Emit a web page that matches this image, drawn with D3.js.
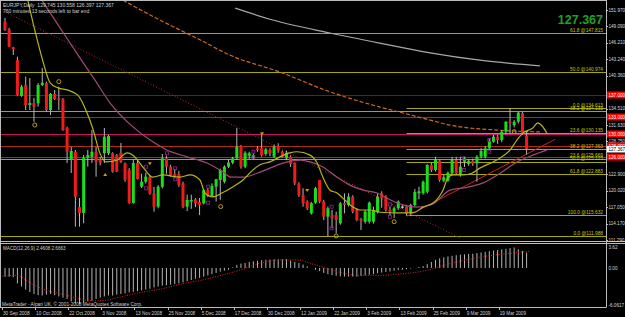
<!DOCTYPE html>
<html>
<head>
<meta charset="utf-8">
<script src="https://cdn.jsdelivr.net/npm/d3@7"></script>
<style>
  html, body { margin: 0; padding: 0; background: #000; }
  svg { display: block; }
  text { font-family: "Liberation Sans", Arial, sans-serif; }
</style>
</head>
<body>
<div id="chart"></div>
<script>
// ---- data ----
const titleText = "EURJPY,Daily  129.745 130.558 126.397 127.367";
const timerText = "760 minutes 13 seconds left to bar end";
const lastPrice = 127.367;

// daily bars [open, high, low, close]
const ohlc = [
  [149.90,150.56,148.26,148.43],[148.56,148.79,145.43,145.48],[145.37,145.48,144.01,145.02],[143.13,143.71,136.80,136.94],
  [136.76,138.71,136.64,138.40],[138.71,140.17,134.28,135.17],[135.17,139.94,134.28,135.52],[135.52,136.41,132.21,134.87],
  [135.47,139.06,134.87,138.71],[138.71,141.71,138.50,139.11],[139.06,139.30,134.00,134.28],[134.28,137.29,133.40,137.11],
  [137.11,137.82,136.05,136.23],[136.35,138.40,134.28,136.05],[136.18,136.41,130.60,130.75],[131.10,131.33,124.91,126.91],
  [125.44,127.79,123.14,127.03],[126.91,127.21,113.64,118.95],[117.13,118.72,113.64,116.07],[116.07,126.32,114.25,125.79],
  [125.85,127.21,124.26,126.32],[126.02,130.75,124.91,126.91],[126.91,127.79,122.49,125.14],[125.56,126.00,124.50,124.96],
  [126.63,131.10,124.91,129.56],[126.63,129.90,126.30,129.69],[126.63,126.80,123.20,123.37],[126.32,126.50,123.30,123.37],
  [126.73,128.45,124.90,125.14],[124.85,125.00,121.60,121.90],[123.67,124.00,117.70,117.84],[117.84,125.50,117.70,124.91],
  [124.91,125.50,122.00,122.08],[120.72,123.00,120.50,121.60],[121.60,123.20,121.30,122.49],[122.49,122.80,119.30,119.55],
  [119.55,120.70,116.30,117.18],[117.18,121.00,116.90,120.72],[120.70,126.50,120.40,125.74],[125.74,126.20,123.00,124.26],
  [124.26,124.60,122.50,122.79],[122.96,123.80,122.20,122.61],[122.96,123.50,120.70,121.02],[121.32,121.60,116.90,117.18],
  [117.18,119.30,116.40,118.37],[118.10,119.30,116.80,118.37],[118.49,118.70,117.10,117.78],[118.00,118.70,115.70,117.50],
  [117.78,120.30,117.60,120.13],[120.13,120.50,118.90,119.07],[119.07,121.30,118.90,120.84],[120.72,122.10,118.07,122.03],
  [121.90,123.90,118.40,123.67],[121.60,124.50,121.30,124.26],[124.26,125.50,124.00,124.96],[124.96,126.00,124.70,125.74],
  [125.74,131.10,125.50,127.79],[127.92,128.10,123.90,124.26],[124.26,127.00,124.00,126.73],[126.20,126.90,125.60,126.63],
  [125.74,126.60,125.50,126.32],[127.50,127.90,126.90,127.20],[127.51,130.16,126.02,126.32],[126.50,127.60,126.20,127.33],
  [127.21,127.50,126.10,126.63],[126.02,128.20,125.80,127.79],[127.92,128.40,126.70,127.08],[126.91,127.10,125.90,126.02],
  [125.74,127.10,125.40,126.73],[126.02,126.30,124.20,124.73],[124.96,125.00,121.00,121.32],[121.20,121.50,118.90,119.25],
  [119.25,120.44,117.18,117.78],[118.07,118.30,116.60,116.90],[116.01,118.00,115.80,117.78],[117.89,120.70,117.70,120.44],
  [121.90,121.90,117.80,118.07],[118.07,118.40,114.80,115.41],[115.41,117.20,111.99,116.90],[115.71,116.60,113.36,115.13],
  [115.71,116.30,112.47,114.83],[114.25,118.00,114.00,117.78],[117.78,119.55,116.01,117.50],[117.48,119.55,117.20,118.95],
  [118.95,119.20,116.00,116.30],[116.60,116.90,114.60,114.83],[115.00,115.20,113.05,114.70],[114.53,116.60,114.20,116.30],
  [114.53,118.10,114.20,117.89],[114.53,117.20,114.20,116.60],[116.30,119.50,116.00,118.95],[119.55,119.90,117.00,118.67],
  [118.95,119.20,116.30,116.60],[116.60,117.20,115.60,116.30],[116.30,117.20,115.20,116.90],[116.90,118.30,116.60,118.07],
  [117.15,117.50,116.80,117.20],[117.18,117.50,115.63,116.01],[116.01,117.70,115.80,117.48],[117.48,120.30,117.20,119.80],
  [119.55,120.70,118.50,119.90],[119.60,121.80,119.30,121.60],[119.83,124.70,119.50,124.56],[124.56,124.90,123.30,123.67],
  [123.67,126.02,123.40,125.44],[125.32,125.50,121.60,121.90],[121.78,122.80,121.50,122.38],[121.78,123.40,121.60,123.20],
  [123.09,126.00,122.80,125.44],[125.44,126.00,122.80,123.09],[122.79,126.02,122.50,124.26],[125.14,126.00,124.20,125.74],
  [124.73,125.60,124.40,125.32],[125.32,125.70,124.40,124.85],[124.85,126.30,121.60,126.02],[126.02,127.51,125.70,127.03],
  [126.02,127.90,125.70,127.51],[127.51,129.27,127.30,128.80],[128.68,129.90,128.50,129.56],[129.56,129.90,128.30,128.98],
  [128.98,130.75,128.60,130.45],[130.45,132.30,130.00,132.21],[132.21,134.61,130.16,132.00],[131.60,132.50,131.20,132.20],
  [132.21,134.00,131.90,133.83],[133.72,134.00,129.90,130.16],[129.745,130.558,126.397,127.367]
];

const priceTicks = [151.970, 149.090, 146.210, 143.240, 140.360, 134.510, 131.630, 128.750, 122.900, 120.020, 117.050, 114.170, 111.290];
const dateLabels = ["30 Sep 2008","10 Oct 2008","22 Oct 2008","3 Nov 2008","13 Nov 2008","25 Nov 2008","5 Dec 2008",
  "17 Dec 2008","30 Dec 2008","12 Jan 2009","22 Jan 2009","3 Feb 2009","13 Feb 2009","25 Feb 2009","9 Mar 2009","19 Mar 2009"];
const dateBars = [0, 8, 16, 24, 32, 40, 48, 56, 64, 72, 80, 88, 96, 104, 112, 120];

// horizontal price lines with red axis tags
const hLines = [137.000, 133.000, 130.000, 128.000, 126.000];

// fibonacci retracements
const fibALevels = ["0.0", "23.6", "38.2", "50.0", "61.8"];
const fibAPrices = [111.988, 125.669, 134.133, 140.974, 147.815];
const fibBLevels = ["0.0", "23.6", "38.2", "50.0", "61.8", "100.0"];
const fibBPrices = [134.613, 130.135, 127.363, 125.123, 122.883, 115.632];
const fibBStartBar = 97;

// moving averages [bar, price]
const maFast = [[5.5,153.7],[7.2,148.4],[9.2,142.8],[10.9,139.1],[12.8,138.2],[15.2,137.8],[17.6,136.9],[19.8,133.8],
  [21.3,130.8],[22.9,126.7],[24.4,125.1],[27,125.4],[29.5,126.7],[30.9,126.3],[33.3,124.2],[35.7,122.4],[38.2,122.8],
  [42.3,122.4],[44.7,122.8],[47.1,121.9],[48.3,119.6],[50.2,118.9],[52.4,119.6],[55.1,120.7],[57.5,121.9],[59.9,123.7],
  [61.6,124.6],[64,125.1],[66.4,126.0],[68.8,126.7],[70.5,126.9],[73.7,126.3],[75.4,124.9],[76.8,122.4],[78.5,120.1],
  [80.2,119.6],[81.6,118.7],[84.1,117.1],[85.7,116.6],[88.2,116.6],[90.6,116.2],[94.7,116.1],[97.1,116.1],[99,116.2],
  [101,117.1],[103.4,117.8],[105.8,120.1],[107,122.3],[108.2,122.8],[110.6,122.8],[112.8,123.1],[114.7,124.0],
  [117.9,125.1],[119.6,125.8],[122,127.2],[123.7,129.0],[125.1,130.2],[127.5,131.1],[128.7,132.0],[129.7,131.5],[130.9,130.2]];
const maMid = [[8.9,153.7],[13.3,148.8],[18.1,143.5],[21.7,139.6],[25.4,135.5],[30.9,131.3],[35,129.0],[39.1,127.2],
  [44,126.0],[48.8,124.9],[52.7,123.3],[54.6,122.4],[57.5,122.4],[60.9,123.1],[64,124.0],[67.1,124.9],[71.3,125.4],
  [73.7,125.1],[76.8,124.2],[80.2,122.4],[83.3,121.0],[86.5,120.1],[89.9,119.6],[93,118.4],[96.1,117.5],[99.5,117.1],
  [103.4,117.7],[107.5,120.1],[111.6,120.6],[115.5,121.4],[119.6,123.1],[123.7,125.1],[127.5,126.3],[130.9,127.2]];
const maSlow = [[28.5,153.7],[37.4,150.2],[47.1,146.7],[54.3,144.0],[66.4,141.0],[78.5,137.5],[90.6,134.8],[95.4,133.9],
  [102.7,132.5],[107.5,131.6],[119.6,130.7],[129.2,130.4]];
const maLong = [[55.6,152.3],[64.7,150.2],[78.5,147.9],[90.6,146.1],[102.7,144.4],[114.7,143.1],[129.2,142.1]];

// trend lines [bar, price]
const trendDown = [[-1.2,152.1],[109.9,111.65]];
const trendUp = [[97.1,115.5],[132.9,129.1]];

// chart markers [bar, price]
const fractalCircles = [[7.2,131.63],[13,139.3],[52.1,117.2],[80,112.0],[94,114.53],[123,130.45]];
const squares = [[39.1,126.62],[34.1,124.26],[34.1,120.43],[41.1,123.97],[41.1,122.03],[49.1,120.72],[49.1,117.89],
  [60,126.91],[60,125.92],[78.9,117.18],[78.9,113.36],[93,117.6],[93,115.41],[110.9,125.74],[110.9,123.67],[117,128.98],[117,126.91]];
const arrowsUp = [[24.2,122.79]];
const arrowsDown = [[35,124.85],[62.1,130.16],[73,120.13]];

// MACD(12,26,9)
const macdText = "MACD(12,26,9) 2.4608 2.6663";
const macdTicks = [3.62, 0.00, -6.0617];
const macdHist = [-1.4,-1.4,-1.5,-2.5,-3.0,-3.5,-3.9,-4.2,-4.4,-4.45,
  -4.3,-4.2,-4.4,-4.6,-4.8,-5.0,-5.4,-5.7,-5.85,-5.6,
  -5.4,-5.3,-5.0,-4.8,-4.6,-4.45,-4.45,-4.3,-4.2,-4.1,
  -3.95,-3.85,-3.75,-3.65,-3.5,-3.35,-3.15,-3.0,-2.85,-2.8,
  -2.7,-2.6,-2.5,-2.35,-2.15,-1.95,-1.75,-1.6,-1.4,-1.2,
  -1.0,-0.8,-0.6,-0.45,-0.3,0.1,0.5,0.7,0.8,0.95,
  1.05,1.15,1.25,1.3,1.35,1.4,1.4,1.4,1.4,1.2,
  1.0,0.8,0.55,0.25,0.0,-0.3,-0.5,-0.8,-1.0,-1.15,
  -1.25,-1.35,-1.4,-1.4,-1.4,-1.4,-1.3,-1.2,-1.1,-1.0,
  -0.85,-0.75,-0.65,-0.55,-0.45,-0.35,-0.3,-0.2,-0.1,0.0,
  0.15,0.3,0.6,0.95,1.3,1.55,1.7,1.85,1.95,2.05,
  2.15,2.2,2.25,2.3,2.4,2.5,2.6,2.7,2.8,2.9,
  3.0,3.1,3.2,3.3,3.0,2.75,2.46];
const macdSignal = [[-1.2,-1.4],[2.7,-1.2],[6.5,-2.6],[10.4,-3.7],[14.3,-4.3],[18.1,-5.0],[21,-5.3],[23.9,-5.25],
  [27.8,-4.7],[32.9,-3.95],[37.7,-3.4],[42.5,-2.6],[47.3,-2.0],[52.2,-1.2],[57,-0.3],[61.8,0.8],[66.7,1.3],[70.5,1.3],
  [74.4,0.6],[78.3,-0.2],[82.1,-0.9],[86,-1.2],[90.8,-1.2],[95.9,-0.95],[100.7,-0.55],[103.6,-0.1],[107.5,0.7],
  [111.4,1.3],[115.2,1.8],[120,2.2],[124.9,2.55],[126.8,2.67]];

const footerText = "MetaTrader - Alpari UK, \u00a9 2001-2008 MetaQuotes Software Corp.";

// ---- layout ----
const width = 625, height = 317;
const plotRight = 606;
const mainBottom = 241;
const macdTop = 244, macdBottom = 307;
const font = "\"Liberation Sans\", Arial, sans-serif";
const axisFont = 4.6;

const svg = d3.select("#chart").append("svg")
  .attr("width", width).attr("height", height)
  .style("background", "#000");

const x = d3.scaleLinear().domain([0, 126]).range([5, 526.6]);
const y = d3.scaleLinear().domain([111.29, 151.97]).range([240, 10]);
const ym = d3.scaleLinear().domain([-6.0617, 3.62]).range([305.5, 245.5]);

const defs = svg.append("defs");
defs.append("clipPath").attr("id", "clipMain").append("rect")
  .attr("x", 1).attr("y", 1).attr("width", plotRight - 1).attr("height", mainBottom - 1);
defs.append("clipPath").attr("id", "clipMacd").append("rect")
  .attr("x", 1).attr("y", macdTop).attr("width", plotRight - 1).attr("height", macdBottom - macdTop);

const main = svg.append("g").attr("clip-path", "url(#clipMain)");

// horizontal lines
const hColor = ["#b00000", "#b0185a", "#cc1068", "#b02a1a", "#c4105e"];
main.selectAll("line.hl").data(hLines).join("line")
  .attr("x1", 0).attr("x2", plotRight)
  .attr("y1", d => Math.round(y(d)) + 0.5).attr("y2", d => Math.round(y(d)) + 0.5)
  .attr("stroke", (d, i) => hColor[i]).attr("stroke-width", 1);

// fib A (full width)
const fibColor = "#a8a800";
main.selectAll("line.fa").data(fibAPrices).join("line")
  .attr("x1", 0).attr("x2", plotRight)
  .attr("y1", d => Math.round(y(d)) + 0.5).attr("y2", d => Math.round(y(d)) + 0.5)
  .attr("stroke", fibColor).attr("stroke-width", 1);
// fib B (from swing low)
main.selectAll("line.fb").data(fibBPrices).join("line")
  .attr("x1", x(fibBStartBar)).attr("x2", plotRight)
  .attr("y1", d => Math.round(y(d)) + 0.5).attr("y2", d => Math.round(y(d)) + 0.5)
  .attr("stroke", fibColor).attr("stroke-width", 1);

// trend lines
const pline = d3.line().x(d => x(d[0])).y(d => y(d[1]));
main.append("path").attr("d", pline(trendDown)).attr("fill", "none")
  .attr("stroke", "#c02828").attr("stroke-width", 1).attr("stroke-dasharray", "1,2");
main.append("path").attr("d", pline(trendUp)).attr("fill", "none")
  .attr("stroke", "#d02020").attr("stroke-width", 1);

// slow MAs
const smooth = d3.line().x(d => x(d[0])).y(d => y(d[1])).curve(d3.curveMonotoneX);
main.append("path").attr("d", smooth(maLong)).attr("fill", "none")
  .attr("stroke", "#a8a8a8").attr("stroke-width", 1.2);
main.append("path").attr("d", smooth(maSlow)).attr("fill", "none")
  .attr("stroke", "#d2691e").attr("stroke-width", 1.2).attr("stroke-dasharray", "4,2");

// candles
const bars = main.append("g");
bars.selectAll("line.wick").data(ohlc).join("line")
  .attr("x1", (d, i) => x(i)).attr("x2", (d, i) => x(i))
  .attr("y1", d => y(d[1])).attr("y2", d => y(d[2]))
  .attr("stroke", "#b8b8b8").attr("stroke-width", 1);
bars.selectAll("rect.body").data(ohlc).join("rect")
  .attr("x", (d, i) => x(i) - 1.5).attr("width", 3)
  .attr("y", d => y(Math.max(d[0], d[3])))
  .attr("height", d => Math.max(1, Math.abs(y(d[0]) - y(d[3]))))
  .attr("fill", d => Math.abs(d[0] - d[3]) < 0.12 ? "#e0e0e0" : (d[3] > d[0] ? "#18e018" : "#f01c1c"));

// fast MAs on top
main.append("path").attr("d", smooth(maMid)).attr("fill", "none")
  .attr("stroke", "#a04a78").attr("stroke-width", 1.2);
main.append("path").attr("d", smooth(maFast)).attr("fill", "none")
  .attr("stroke", "#b4b41c").attr("stroke-width", 1.2);

// markers
main.selectAll("circle.fr").data(fractalCircles).join("circle")
  .attr("cx", d => x(d[0])).attr("cy", d => y(d[1])).attr("r", 2)
  .attr("fill", "none").attr("stroke", "#b8a020").attr("stroke-width", 1);
main.selectAll("rect.sq").data(squares).join("rect")
  .attr("x", d => x(d[0]) - 1.5).attr("y", d => y(d[1]) - 1.5).attr("width", 3).attr("height", 3)
  .attr("fill", "none").attr("stroke", "#8a2a8a").attr("stroke-width", 0.8);
main.selectAll("path.au").data(arrowsUp).join("path")
  .attr("d", d => `M${x(d[0])},${y(d[1]) - 2}l2,3h-4z`).attr("fill", "#c8a000");
main.selectAll("path.ad").data(arrowsDown).join("path")
  .attr("d", d => `M${x(d[0])},${y(d[1]) + 2}l2,-3h-4z`).attr("fill", "#c8a000");

// fib labels
const fibLabels = fibALevels.map((l, i) => ({ t: `${l} @${fibAPrices[i].toFixed(3)}`, p: fibAPrices[i] }))
  .concat(fibBLevels.map((l, i) => ({ t: `${l} @${fibBPrices[i].toFixed(3)}`, p: fibBPrices[i] })));
svg.selectAll("text.fib").data(fibLabels).join("text")
  .attr("x", 603).attr("y", d => y(d.p) - 1.3)
  .attr("text-anchor", "end").attr("font-size", 4.8).attr("fill", "#c8c800")
  .style("font-family", font).text(d => d.t);

// frame & separators
const frame = svg.append("g").attr("stroke", "#bcbcbc").attr("stroke-width", 1).attr("fill", "none");
frame.append("line").attr("x1", 0.5).attr("x2", 0.5).attr("y1", 0).attr("y2", macdBottom);
frame.append("line").attr("x1", plotRight + 0.5).attr("x2", plotRight + 0.5).attr("y1", 0).attr("y2", macdBottom + 0.5);
frame.append("line").attr("x1", 0).attr("x2", plotRight).attr("y1", 0.5).attr("y2", 0.5);
frame.append("line").attr("x1", 0).attr("x2", width).attr("y1", mainBottom + 0.5).attr("y2", mainBottom + 0.5);
frame.append("line").attr("x1", 0).attr("x2", width).attr("y1", macdTop - 0.5).attr("y2", macdTop - 0.5);
frame.append("line").attr("x1", 0).attr("x2", plotRight).attr("y1", macdBottom + 0.5).attr("y2", macdBottom + 0.5);

// price axis labels
svg.selectAll("text.pt").data(priceTicks).join("text")
  .attr("x", 608.5).attr("y", d => y(d) + 1.7)
  .attr("font-size", axisFont).attr("fill", "#d8d8d8")
  .style("font-family", font).text(d => d.toFixed(3));
svg.selectAll("line.ptk").data(priceTicks).join("line")
  .attr("x1", plotRight).attr("x2", plotRight + 2)
  .attr("y1", d => Math.round(y(d)) + 0.5).attr("y2", d => Math.round(y(d)) + 0.5)
  .attr("stroke", "#bcbcbc");

// red tags for horizontal lines
const tags = svg.selectAll("g.tag").data(hLines).join("g")
  .attr("transform", d => `translate(${plotRight + 1},${Math.round(y(d)) - 3.5})`);
tags.append("rect").attr("width", 18).attr("height", 7).attr("fill", "#ff0000");
tags.append("text").attr("x", 1.5).attr("y", 5.2).attr("font-size", axisFont).attr("fill", "#fff")
  .style("font-family", font).text(d => d.toFixed(3));

// current price tag
const bid = svg.append("g").attr("transform", `translate(${plotRight + 1},${Math.round(y(lastPrice)) - 3})`);
bid.append("rect").attr("width", 18).attr("height", 6.5).attr("fill", "#ffffff");
bid.append("text").attr("x", 1.5).attr("y", 5).attr("font-size", axisFont).attr("fill", "#000")
  .style("font-family", font).text(lastPrice.toFixed(3));

// big price
svg.append("text").attr("x", 603).attr("y", 24).attr("text-anchor", "end")
  .attr("font-size", 12.5).attr("font-weight", "bold").attr("fill", "#22a022")
  .style("font-family", font).text(lastPrice.toFixed(3));

// title
svg.append("text").attr("x", 3).attr("y", 7).attr("font-size", 5).attr("fill", "#d0d0d0")
  .style("font-family", font).style("white-space", "pre").text(titleText);
svg.append("text").attr("x", 3).attr("y", 12.5).attr("font-size", 5).attr("fill", "#d0d0d0")
  .style("font-family", font).text(timerText);

// ---- MACD panel ----
const macd = svg.append("g").attr("clip-path", "url(#clipMacd)");
macd.selectAll("line.h").data(macdHist).join("line")
  .attr("x1", (d, i) => x(i)).attr("x2", (d, i) => x(i))
  .attr("y1", ym(0)).attr("y2", d => ym(d))
  .attr("stroke", "#b4b4b4").attr("stroke-width", 1);
macd.append("path")
  .attr("d", d3.line().x(d => x(d[0])).y(d => ym(d[1])).curve(d3.curveMonotoneX)(macdSignal))
  .attr("fill", "none").attr("stroke", "#e02020").attr("stroke-width", 1).attr("stroke-dasharray", "1,1.5");

svg.append("text").attr("x", 3).attr("y", 250).attr("font-size", 4.6).attr("fill", "#d0d0d0")
  .style("font-family", font).text(macdText);
svg.append("text").attr("x", 2).attr("y", 305.5).attr("font-size", 4.8).attr("fill", "#d0d0d0")
  .style("font-family", font).text(footerText);

svg.selectAll("text.mt").data(macdTicks).join("text")
  .attr("x", 608.5).attr("y", (d, i) => i === 0 ? 248.5 : (i === 2 ? 306.5 : ym(d) + 1.7))
  .attr("font-size", axisFont).attr("fill", "#d8d8d8")
  .style("font-family", font).text(d => d === 0 ? "0.00" : String(d));

// date axis
svg.selectAll("line.dt").data(dateBars).join("line")
  .attr("x1", d => Math.round(x(d) - 3) + 0.5).attr("x2", d => Math.round(x(d) - 3) + 0.5)
  .attr("y1", macdBottom).attr("y2", macdBottom + 3)
  .attr("stroke", "#bcbcbc");
svg.selectAll("text.dl").data(dateBars).join("text")
  .attr("x", d => x(d) - 2).attr("y", 314.5)
  .attr("font-size", 4.7).attr("fill", "#d0d0d0")
  .style("font-family", font).text((d, i) => dateLabels[i]);
</script>
</body>
</html>
